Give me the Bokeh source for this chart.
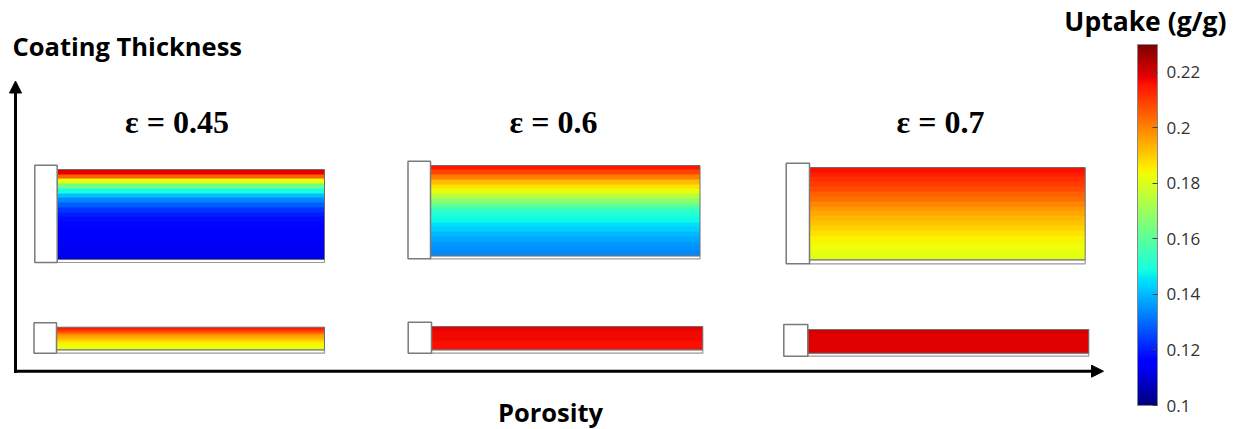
import numpy as np
from bokeh.plotting import figure
from bokeh.models import (Range1d, LinearColorMapper, ColorBar, FixedTicker,
                          Arrow, NormalHead, Label, ColumnDataSource)
from bokeh.core.properties import value
from bokeh.embed import file_html
from bokeh.resources import INLINE

# ---------------- data ----------------
POROSITY = [0.45, 0.6, 0.7]
# uptake (g/g) sampled from the top of each coating to its bottom
THICK_045 = [0.218, 0.205, 0.182, 0.163, 0.149, 0.141, 0.134, 0.128, 0.123, 0.120,
             0.118, 0.117, 0.116, 0.115, 0.114, 0.114, 0.113, 0.113, 0.113]
THICK_060 = [0.215, 0.209, 0.201, 0.192, 0.187, 0.182, 0.175, 0.167, 0.160, 0.154,
             0.150, 0.148, 0.145, 0.143, 0.140, 0.138, 0.136, 0.135, 0.134]
THICK_070 = [0.216, 0.214, 0.212, 0.210, 0.208, 0.205, 0.203, 0.200, 0.197, 0.195,
             0.193, 0.191, 0.189, 0.187, 0.185, 0.184, 0.183, 0.182, 0.181]
THIN_045 = [0.215, 0.211, 0.206, 0.200, 0.195, 0.191, 0.187, 0.185, 0.183, 0.182]
THIN_060 = [0.218, 0.217, 0.217, 0.216, 0.216]
THIN_070 = [0.220, 0.219, 0.219, 0.219, 0.219]
UPTAKE_MIN = 0.1
UPTAKE_MAX = 0.23
CBAR_TICKS = [0.1, 0.12, 0.14, 0.16, 0.18, 0.2, 0.22]
CBAR_LABELS = ["0.1", "0.12", "0.14", "0.16", "0.18", "0.2", "0.22"]

# ---------------- layout (pixels, measured from top-left) ----------------
W, H = 1233, 429
# (block_x0, block_y0, grad_x0, grad_y0, grad_x1, grad_y1, block_y1)
PANEL_BOXES = [
    (34.3, 164.7, 56.7, 169.0, 324.0, 259.0, 262.0),
    (407.5, 160.7, 430.0, 165.0, 699.5, 255.3, 258.3),
    (785.7, 162.7, 809.0, 167.0, 1084.7, 259.3, 263.3),
    (33.5, 322.3, 56.0, 326.7, 324.0, 349.3, 352.7),
    (407.7, 321.7, 431.0, 326.0, 702.3, 349.3, 352.7),
    (783.3, 324.0, 807.3, 329.0, 1088.3, 352.7, 355.7),
]
PANEL_DATA = [THICK_045, THICK_060, THICK_070, THIN_045, THIN_060, THIN_070]
EPS_X = [176.5, 553.0, 940.0]


def fy(y):
    return H - y


def jet_palette(n=256):
    f = np.linspace(0, 1, n)
    r = np.interp(f, [0, 0.35, 0.66, 0.89, 1], [0, 0, 1, 1, 0.5])
    g = np.interp(f, [0, 0.125, 0.375, 0.64, 0.91, 1], [0, 0, 1, 1, 0, 0])
    b = np.interp(f, [0, 0.11, 0.34, 0.65, 1], [0.5, 1, 1, 0, 0])
    return ["#%02x%02x%02x" % (int(round(255 * a)), int(round(255 * c)), int(round(255 * d)))
            for a, c, d in zip(r, g, b)]


mapper = LinearColorMapper(palette=jet_palette(), low=UPTAKE_MIN, high=UPTAKE_MAX)

p = figure(width=W, height=H, output_backend="svg", toolbar_location=None,
           x_range=Range1d(0, W), y_range=Range1d(0, H),
           x_axis_location=None, y_axis_location=None,
           min_border=0, outline_line_color=None)
p.grid.visible = False
p.background_fill_color = "white"
p.border_fill_color = "white"

for (bx0, by0, gx0, gy0, gx1, gy1, by1), vals in zip(PANEL_BOXES, PANEL_DATA):
    # white substrate strip under the coating
    p.quad(left=gx0, right=gx1, top=fy(gy1), bottom=fy(by1),
           fill_color="white", line_color="#9a9a9a", line_width=1.2)
    # coating coloured by uptake
    arr = np.array(vals[::-1], dtype=float).reshape(-1, 1)
    p.image(image=[arr], x=gx0, y=fy(gy1), dw=gx1 - gx0, dh=gy1 - gy0,
            color_mapper=mapper)
    p.quad(left=gx0, right=gx1, top=fy(gy0), bottom=fy(gy1),
           fill_color=None, line_color="#6e6e6e", line_width=1)
    # white block on the left
    p.quad(left=bx0, right=gx0, top=fy(by0), bottom=fy(by1),
           fill_color="white", line_color="#7a7a7a", line_width=1.5)

# porosity labels
src = ColumnDataSource(dict(x=EPS_X, y=[fy(121)] * 3,
                            t=["ε = %s" % v for v in POROSITY]))
p.text(x="x", y="y", text="t", source=src, text_align="center",
       text_baseline="alphabetic", text_font=value("Liberation Serif"),
       text_font_style="bold", text_font_size="32px", text_color="black")

# axes arrows
p.add_layout(Arrow(x_start=15, y_start=fy(372.2), x_end=15, y_end=fy(80.5),
                   line_width=3, line_color="black",
                   end=NormalHead(size=12, fill_color="black", line_color="black")))
p.add_layout(Arrow(x_start=13.5, y_start=fy(370.7), x_end=1103, y_end=fy(370.7),
                   line_width=3, line_color="black",
                   end=NormalHead(size=12, fill_color="black", line_color="black")))

p.add_layout(Label(x=12, y=fy(45), text="Coating Thickness", text_font="Open Sans",
                   text_font_style="bold", text_font_size="25.5px",
                   text_baseline="alphabetic", text_color="black"))
p.add_layout(Label(x=550, y=fy(411), text="Porosity", text_font="Open Sans",
                   text_font_style="bold", text_font_size="25.5px", text_align="center",
                   text_baseline="alphabetic", text_color="black"))
p.add_layout(Label(x=1226, y=fy(20), text="Uptake (g/g)", text_font="Open Sans",
                   text_font_style="bold", text_font_size="26.5px", text_align="right",
                   text_baseline="alphabetic", text_color="black"))

cb = ColorBar(color_mapper=mapper, width=20, height=361,
              location=(1137, H - 405), padding=0, margin=0,
              ticker=FixedTicker(ticks=CBAR_TICKS),
              major_label_overrides=dict(zip(CBAR_TICKS, CBAR_LABELS)),
              major_label_text_font="Open Sans", major_label_text_font_size="17px",
              major_label_text_color="#333333", label_standoff=9,
              major_tick_in=5, major_tick_out=0, major_tick_line_color="#444444",
              minor_tick_line_color=None, bar_line_color="#888888",
              border_line_color=None, background_fill_color=None)
p.add_layout(cb)

open("out.html", "w").write(file_html(p, INLINE))
